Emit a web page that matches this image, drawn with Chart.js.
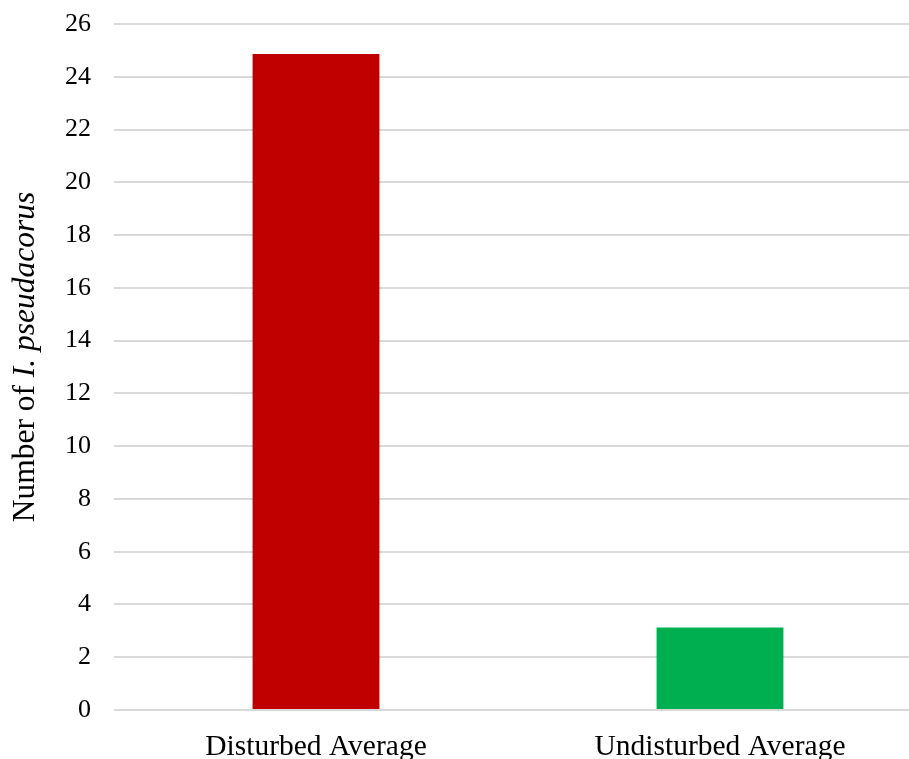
<!DOCTYPE html>
<html>
<head>
<meta charset="utf-8">
<script src="https://cdn.jsdelivr.net/npm/chart.js@4/dist/chart.umd.min.js"></script>
<style>
  html, body { margin: 0; padding: 0; background: #ffffff; overflow: hidden; }
  #wrap { width: 909px; height: 759px; overflow: hidden; position: relative; }
  canvas { display: block; }
</style>
</head>
<body>
<div id="wrap"><canvas id="chart" width="922" height="759"></canvas></div>
<script>
// Category labels and average counts
const categories = ['Disturbed Average', 'Undisturbed Average'];
const averages = [24.86, 3.13];
const barColors = ['#C00000', '#00B050'];
const yTicks = [0, 2, 4, 6, 8, 10, 12, 14, 16, 18, 20, 22, 24, 26];

const serif = "'Liberation Serif', 'Times New Roman', serif";

// Y axis title with the species name in italics
const yTitlePlugin = {
  id: 'yTitle',
  afterDraw(chart) {
    const ctx = chart.ctx;
    const parts = [
      { text: 'Number of ', font: '31.5px ' + serif },
      { text: 'I. pseudacorus', font: 'italic 31.5px ' + serif }
    ];
    ctx.save();
    let total = 0;
    parts.forEach(p => { ctx.font = p.font; p.w = ctx.measureText(p.text).width; total += p.w; });
    ctx.translate(34, 357);
    ctx.rotate(-Math.PI / 2);
    ctx.fillStyle = '#000000';
    ctx.textBaseline = 'alphabetic';
    ctx.textAlign = 'left';
    let x = -total / 2;
    parts.forEach(p => { ctx.font = p.font; ctx.fillText(p.text, x, 0); x += p.w; });
    ctx.restore();
  }
};

new Chart(document.getElementById('chart'), {
  type: 'bar',
  data: {
    labels: categories,
    datasets: [{
      data: averages,
      backgroundColor: barColors,
      borderWidth: 0,
      barPercentage: 0.314,
      categoryPercentage: 1.0
    }]
  },
  options: {
    responsive: false,
    animation: false,
    layout: { padding: { top: 24, left: 0, right: 0, bottom: 0 } },
    plugins: {
      legend: { display: false },
      tooltip: { enabled: false }
    },
    scales: {
      x: {
        grid: { display: false, drawTicks: false },
        border: { display: false },
        ticks: {
          color: '#000000',
          font: { family: serif, size: 29.5 },
          padding: 20
        },
        afterFit(scale) { scale.height = 49; scale.paddingLeft = 0; scale.paddingRight = 0; }
      },
      y: {
        min: 0,
        max: 26,
        afterBuildTicks(scale) { scale.ticks = yTicks.map(v => ({ value: v })); },
        grid: { color: '#d9d9d9', lineWidth: 2, drawTicks: false },
        border: { display: false },
        ticks: {
          color: '#000000',
          font: { family: serif, size: 26 },
          padding: 23
        },
        afterFit(scale) { scale.width = 114; scale.paddingTop = 0; scale.paddingBottom = 0; }
      }
    }
  },
  plugins: [yTitlePlugin]
});
</script>
</body>
</html>
